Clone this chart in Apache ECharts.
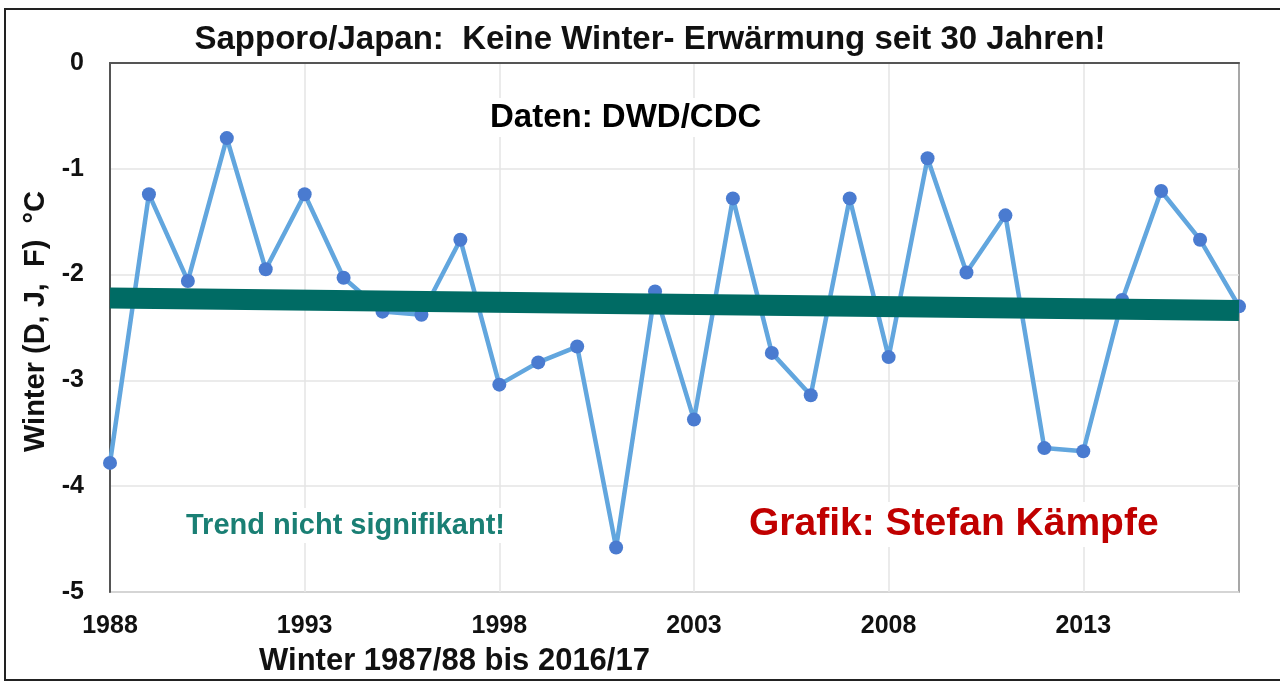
<!DOCTYPE html>
<html>
<head>
<meta charset="utf-8">
<script src="https://cdn.jsdelivr.net/npm/echarts@6/dist/echarts.min.js"></script>
<style>
  html, body { margin: 0; padding: 0; background: #fff; }
  #chart { width: 1280px; height: 682px; }
</style>
</head>
<body>
<div id="chart"></div>
<script>
// Winter 1987/88 .. 2016/17
var years = ['1988', '1989', '1990', '1991', '1992', '1993', '1994', '1995', '1996', '1997',
    '1998', '1999', '2000', '2001', '2002', '2003', '2004', '2005', '2006', '2007',
    '2008', '2009', '2010', '2011', '2012', '2013', '2014', '2015', '2016', '2017'];
var winterTemp = [-3.78, -1.24, -2.06, -0.71, -1.95, -1.24, -2.03, -2.35, -2.38, -1.67,
    -3.04, -2.83, -2.68, -4.58, -2.16, -3.37, -1.28, -2.74, -3.14, -1.28,
    -2.78, -0.90, -1.98, -1.44, -3.64, -3.67, -2.24, -1.21, -1.67, -2.30];
// Trendlinie (Anfang / Ende)
var trendYears = ['1988', '2017'];
var trendVals = [-2.22, -2.34];
var yTicks = [0, -1, -2, -3, -4, -5];

var trendData = trendYears.map(function (y, i) { return [y, trendVals[i]]; });

var myChart = echarts.init(document.getElementById('chart'));
var option = {
    backgroundColor: '#fff',
    animation: false,
    grid: {
        left: 110,
        right: 41,
        top: 63,
        bottom: 88,
        show: true,
        borderColor: '#8a8a8a',
        borderWidth: 1.5
    },
    title: {
        text: 'Sapporo/Japan:  Keine Winter- Erwärmung seit 30 Jahren!',
        left: 645,
        textAlign: 'center',
        top: 18,
        textStyle: {
            fontFamily: 'Liberation Sans',
            fontSize: 33,
            fontWeight: 'bold',
            color: '#111'
        }
    },
    xAxis: {
        type: 'category',
        data: years,
        boundaryGap: false,
        axisLine: { lineStyle: { color: '#555', width: 2 } },
        axisTick: { show: false },
        axisLabel: {
            interval: 4,
            margin: 22,
            fontFamily: 'Liberation Sans',
            fontWeight: 'bold',
            fontSize: 25,
            color: '#111'
        },
        splitLine: {
            show: true,
            interval: 4,
            lineStyle: { color: '#e4e4e4', width: 1.5 }
        },
        name: 'Winter 1987/88 bis 2016/17',
        nameLocation: 'middle',
        nameGap: 54,
        nameTextStyle: {
            fontFamily: 'Liberation Sans',
            fontWeight: 'bold',
            fontSize: 31,
            color: '#111',
            padding: [0, 440, 0, 0]
        }
    },
    yAxis: {
        type: 'value',
        min: -5,
        max: 0,
        interval: 1,
        axisLine: { show: true, lineStyle: { color: '#555', width: 2 } },
        axisTick: { show: false },
        axisLabel: {
            margin: 26,
            fontFamily: 'Liberation Sans',
            fontWeight: 'bold',
            fontSize: 25,
            color: '#111',
            formatter: function (v) { return yTicks.indexOf(v) >= 0 ? String(v) : ''; }
        },
        splitLine: { lineStyle: { color: '#e4e4e4', width: 1.5 } },
        name: 'Winter (D, J,  F)  °C',
        nameLocation: 'middle',
        nameGap: 54,
        nameRotate: 90,
        nameTextStyle: {
            fontFamily: 'Liberation Sans',
            fontWeight: 'bold',
            fontSize: 29,
            color: '#111',
            padding: [0, 0, 0, 12]
        }
    },
    series: [
        {
            name: 'Winter',
            type: 'line',
            data: winterTemp,
            z: 2,
            symbol: 'circle',
            symbolSize: 14,
            itemStyle: { color: '#4a7bd0' },
            lineStyle: { color: '#62a6de', width: 4.5 }
        },
        {
            name: 'Trend',
            type: 'line',
            data: trendData,
            z: 3,
            symbol: 'none',
            lineStyle: { color: '#006b64', width: 21, cap: 'butt' }
        }
    ],
    graphic: [
        {
            type: 'rect',
            shape: { x: 5, y: 9, width: 1290, height: 671 },
            style: { fill: 'none', stroke: '#222', lineWidth: 2 },
            z: 100
        },
        {
            type: 'text',
            left: 487,
            top: 98,
            z: 50,
            style: {
                text: 'Daten: DWD/CDC',
                font: 'bold 33px "Liberation Sans"',
                fill: '#000',
                backgroundColor: '#fff',
                padding: [3, 3]
            }
        },
        {
            type: 'text',
            left: 183,
            top: 508,
            z: 50,
            style: {
                text: 'Trend nicht signifikant!',
                font: 'bold 29px "Liberation Sans"',
                fill: '#1a7f74',
                backgroundColor: '#fff',
                padding: [3, 3]
            }
        },
        {
            type: 'text',
            left: 746,
            top: 502,
            z: 50,
            style: {
                text: 'Grafik: Stefan Kämpfe',
                font: 'bold 39px "Liberation Sans"',
                fill: '#c00000',
                backgroundColor: '#fff',
                padding: [3, 3]
            }
        }
    ]
};
myChart.setOption(option);
</script>
</body>
</html>
